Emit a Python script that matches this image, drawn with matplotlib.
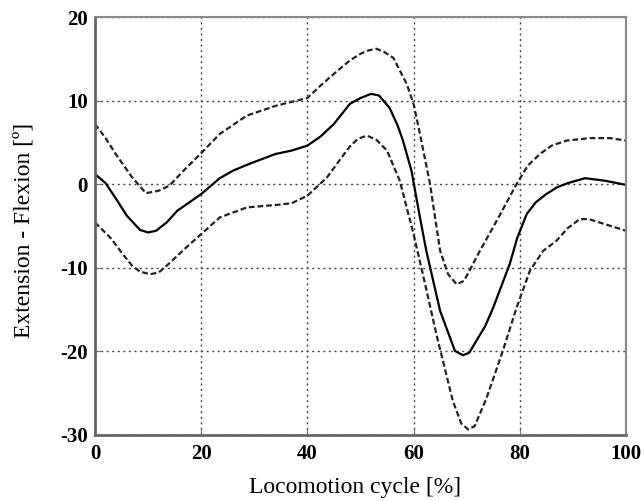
import matplotlib
matplotlib.use('Agg')
import matplotlib.pyplot as plt

plt.rcParams['axes.unicode_minus'] = False

# mean curve (solid)
mean_x = [0, 2, 4, 6, 8.5, 10, 11.5, 13.5, 15.5, 18, 20, 23.5, 26, 29, 34, 37, 40, 42.5, 45,
          48, 50, 52, 53.5, 55.5, 57, 58, 59.6, 61.2, 62.4, 65, 67.8, 69.3, 70.5, 71.8, 73.5,
          75, 78.1, 79.5, 81.3, 83, 85, 87, 89, 92.3, 96, 100]
mean_y = [1.2, 0.1, -1.8, -3.8, -5.5, -5.8, -5.6, -4.6, -3.2, -2.1, -1.2, 0.7, 1.6, 2.4, 3.6, 4.0, 4.6,
          5.7, 7.2, 9.6, 10.3, 10.8, 10.6, 9.1, 7.0, 5.2, 1.6, -4, -8, -15.2, -20, -20.5, -20.2, -18.8,
          -17.0, -14.8, -9.6, -6.5, -3.6, -2.2, -1.2, -0.4, 0.1, 0.7, 0.4, -0.1]

# upper band (dashed)
up_x = [0, 2, 4, 7, 9.6, 12, 14, 17, 20, 23.5, 28.6, 34.2, 40, 42.5, 45, 48, 50, 51.5, 53, 54.5,
        56.2, 58.7, 60, 61.2, 63.1, 65, 66.5, 68.1, 69.5, 72.5, 76, 79.4, 81.5, 83.8, 86,
        88.8, 93.2, 97, 100]
up_y = [7.2, 5.5, 3.5, 0.8, -1.1, -0.8, -0.2, 1.8, 3.7, 6, 8.2, 9.4, 10.3, 11.8, 13.2, 14.8, 15.6,
        16.0, 16.2, 15.8, 15.1, 12, 9.6, 6, 0, -8, -10.8, -12, -11.6, -8, -4, 0, 2.2, 3.6, 4.6,
        5.2, 5.5, 5.5, 5.2]

# lower band (dashed)
lo_x = [0, 3, 5, 7, 8.5, 10.4, 12, 14, 17, 20, 23.5, 28.6, 34.2, 37, 40, 43.7, 46, 48, 49.5,
        51.2, 53, 55, 57.4, 60, 62, 64.3, 67.4, 69, 70.3, 71.5, 73.7, 76.8, 79.4, 81.9, 84.4,
        86.9, 89, 91.3, 93, 95, 100]
lo_y = [-4.6, -6.5, -8.2, -9.8, -10.5, -10.8, -10.6, -9.5, -7.7, -6, -4, -2.8, -2.5, -2.3, -1.4, 0.8,
        2.8, 4.5, 5.4, 5.8, 5.3, 4, 0.4, -6, -11.5, -18, -26, -28.7, -29.4, -29.0, -25.7, -20,
        -14.8, -10.4, -8, -6.8, -5.3, -4.2, -4.2, -4.6, -5.6]

xticks = [0, 20, 40, 60, 80, 100]
yticks = [-30, -20, -10, 0, 10, 20]

fig = plt.figure(figsize=(6.44, 5.01), dpi=100)
ax = fig.add_axes([0.1475, 0.1327, 0.8245, 0.8333])

dash = (0, (2.6, 1.3))
ax.plot(up_x, up_y, color='#222222', lw=1.6, linestyle=dash)
ax.plot(lo_x, lo_y, color='#222222', lw=1.6, linestyle=dash)
ax.plot(mean_x, mean_y, color='black', lw=1.6)

ax.set_xlim(0, 100)
ax.set_ylim(-30, 20)
ax.set_xticks(xticks)
ax.set_yticks(yticks)
ax.grid(True, linestyle=(0, (1.5, 2.5)), color='#444444', lw=1.0)

for lab in ax.get_xticklabels() + ax.get_yticklabels():
    lab.set_fontfamily('Liberation Serif')
    lab.set_fontweight('bold')
    lab.set_fontsize(15)
ax.tick_params(direction='in', length=4, color='#777777')
ax.tick_params(axis='y', pad=5)
ax.tick_params(axis='x', pad=7)

for s in ['left', 'bottom']:
    ax.spines[s].set_color('#666666')
    ax.spines[s].set_linewidth(2)
for s in ['top', 'right']:
    ax.spines[s].set_color('#888888')
    ax.spines[s].set_linewidth(1.5)

xl = ax.set_xlabel('Locomotion cycle [%]', fontfamily='Liberation Serif', fontsize=17)
xl.set_va('center')
ax.xaxis.set_label_coords(0.49, -0.126)
yl = ax.set_ylabel('Extension - Flexion [º]', fontfamily='Liberation Serif', fontsize=17)
yl.set_va('center')
ax.yaxis.set_label_coords(-0.134, 0.49)

fig.savefig('out.png', dpi=100)
